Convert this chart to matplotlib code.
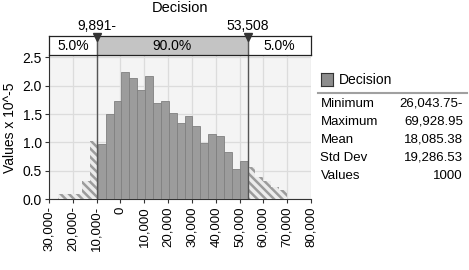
import matplotlib
matplotlib.use("Agg")
import matplotlib.pyplot as plt
import numpy as np

plt.rcParams['font.family'] = ['Liberation Sans', 'DejaVu Sans']
plt.rcParams['hatch.linewidth'] = 1.8

# data
title = "Decision"
data_min = -26043.75
data_max = 69928.95
heights = [0.09, 0.09, 0.09, 0.33, 1.03,
           0.97, 1.50, 1.72, 2.23, 2.13, 1.92, 2.17, 1.69, 1.72, 1.52,
           1.35, 1.47, 1.29, 0.99, 1.15, 1.12, 0.84, 0.53, 0.68,
           0.57, 0.40, 0.32, 0.21, 0.17]
left_cut = -9891
right_cut = 53508
pct_labels = ["5.0%", "90.0%", "5.0%"]
cut_labels = ["9,891-", "53,508"]
xticks = [-30000, -20000, -10000, 0, 10000, 20000, 30000, 40000, 50000, 60000, 70000, 80000]
yticks = [0.0, 0.5, 1.0, 1.5, 2.0, 2.5]
stat_names = ["Minimum", "Maximum", "Mean", "Std Dev", "Values"]
stat_values = ["26,043.75-", "69,928.95", "18,085.38", "19,286.53", "1000"]

W, H = 469, 270
fig = plt.figure(figsize=(W / 100, H / 100), dpi=100)
fig.patch.set_facecolor('white')

def fx(px):
    return px / W

def fy(py):
    return 1 - py / H

x0, x1 = 49, 311
ax = fig.add_axes([fx(x0), fy(199.3), fx(x1) - fx(x0), fy(56) - fy(199.3)])
ax.set_facecolor('#f4f4f4')

edges = np.linspace(data_min, data_max, len(heights) + 1)
lefts = edges[:-1]
width = edges[1] - edges[0]
for l, h in zip(lefts, heights):
    c = l + width / 2
    if c < left_cut or c > right_cut:
        ax.bar(l, h, width=width, align='edge', facecolor='#ececec',
               edgecolor='#9c9c9c', hatch='\\\\\\\\', linewidth=0, zorder=3)
    else:
        ax.bar(l, h, width=width, align='edge', facecolor='#9c9c9c',
               edgecolor='#808080', linewidth=0.6, zorder=3)

ax.set_xlim(-30000, 80000)
ax.set_ylim(0, 2.52)
ax.set_xticks(xticks)
ax.set_xticklabels([f"{abs(v):,}-" if v < 0 else f"{v:,}" for v in xticks],
                   rotation=90, fontsize=9.5)
ax.set_yticks(yticks)
ax.set_yticklabels([f"{v:.1f}" for v in yticks], fontsize=10)
ax.grid(True, color='#dcdcdc', linewidth=0.9, zorder=0)
ax.set_axisbelow(True)
for s in ['top', 'right']:
    ax.spines[s].set_visible(False)
for s in ['left', 'bottom']:
    ax.spines[s].set_color('#333333')
ax.tick_params(axis='both', length=3, color='#333333', pad=2)
ax.set_ylabel("Values x 10^-5", fontsize=10, labelpad=4)

for xc in (left_cut, right_cut):
    ax.axvline(xc, color='#555555', linewidth=1.0, zorder=5)

# percentage strip above the plot
bx = fig.add_axes([fx(x0), fy(55), fx(x1) - fx(x0), fy(36) - fy(55)])
bx.set_xlim(-30000, 80000)
bx.set_ylim(0, 1)
bx.axvspan(left_cut, right_cut, color='#c4c4c4')
for xc in (left_cut, right_cut):
    bx.axvline(xc, color='#555555', linewidth=1.0)
bx.set_xticks([])
bx.set_yticks([])
for s in bx.spines.values():
    s.set_color('#222222')
    s.set_linewidth(0.9)
bx.text((-30000 + left_cut) / 2, 0.45, pct_labels[0], ha='center', va='center', fontsize=10)
bx.text((left_cut + right_cut) / 2, 0.45, pct_labels[1], ha='center', va='center', fontsize=10)
bx.text((right_cut + 80000) / 2, 0.45, pct_labels[2], ha='center', va='center', fontsize=10)
bx.plot([left_cut, right_cut], [0.93, 0.93], linestyle='none', marker='v',
        markersize=6, color='#333333', clip_on=False, zorder=6)

for xc, lab in zip((left_cut, right_cut), cut_labels):
    bx.text(xc, 1.55, lab, ha='center', va='center', fontsize=10)

fig.text(fx(180), fy(1), title, ha='center', va='top', fontsize=10.5)

# stats panel on the right
sq = fig.add_axes([fx(320.5), fy(86), fx(333) - fx(320.5), fy(73) - fy(86)])
sq.set_facecolor('#8c8c8c')
sq.set_xticks([])
sq.set_yticks([])
for s in sq.spines.values():
    s.set_color('#333333')
    s.set_linewidth(0.8)
fig.text(fx(339), fy(79.5), title, ha='left', va='center', fontsize=10)
fig.add_artist(plt.Line2D([fx(318), fx(467)], [fy(92.5), fy(92.5)],
                          color='#a0a0a0', linewidth=1.5))
row_y = [104, 122, 140, 158, 176]
for yy, name, val in zip(row_y, stat_names, stat_values):
    fig.text(fx(320.5), fy(yy), name, ha='left', va='center', fontsize=9.5)
    fig.text(fx(463), fy(yy), val, ha='right', va='center', fontsize=9.5)

fig.savefig("out.png", dpi=100)
